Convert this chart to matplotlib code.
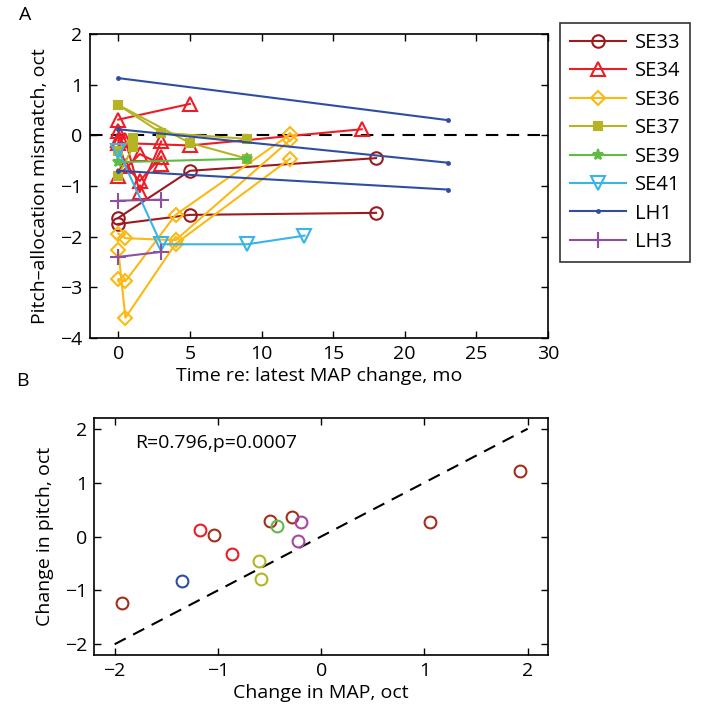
import matplotlib
matplotlib.use('Agg')
import matplotlib.pyplot as plt

plt.rcParams['font.family'] = ['Open Sans', 'DejaVu Sans']
plt.rcParams['font.size'] = 14

# ---------------- Panel A data ----------------
subjects = ['SE33', 'SE34', 'SE36', 'SE37', 'SE39', 'SE41', 'LH1', 'LH3']
colors = ['#9b1b1e', '#ee1c24', '#fdb913', '#b5b524', '#5dbb46', '#3ab4e6', '#2e4ea2', '#8d4fa0']

se33_t = [[0, 5, 18], [0, 5, 18]]
se33_y = [[-1.63, -0.70, -0.45], [-1.75, -1.57, -1.53]]

se34_t = [[0, 5], [0, 5, 17], [0, 0.5, 1.5, 3], [0, 0.5, 1.5, 3], [0, 1.5, 3]]
se34_y = [[0.31, 0.62], [-0.15, -0.20, 0.12], [0.08, -0.10, -1.12, -0.12],
          [-0.10, -0.60, -0.90, -0.42], [-0.80, -0.37, -0.57]]

se36_t = [[0, 0.5, 4, 12], [0, 0.5, 4, 12], [0, 0.5, 4, 12]]
se36_y = [[-1.94, -2.03, -2.07, -0.09], [-2.84, -2.88, -1.57, 0.02], [-2.27, -3.60, -2.14, -0.46]]

se37_t = [[0, 3, 9], [0, 5, 9], [0, 1], [0, 1]]
se37_y = [[0.60, 0.05, -0.07], [0.60, -0.15, -0.46], [-0.30, -0.05], [-0.80, -0.24]]

se39_t = [[0, 9]]
se39_y = [[-0.53, -0.46]]

se41_t = [[0, 3, 9, 13]]
se41_y = [[-0.30, -2.15, -2.15, -1.98]]

lh1_t = [[0, 23], [0, 23], [0, 23]]
lh1_y = [[1.13, 0.30], [0.12, -0.54], [-0.70, -1.07]]

lh3_t = [[0, 3], [0, 3]]
lh3_y = [[-1.29, -1.27], [-2.40, -2.30]]

# ---------------- Panel B data ----------------
map_change = [-1.93, -1.35, -1.17, -1.04, -0.865, -0.606, -0.584, -0.497, -0.43, -0.286, -0.196, -0.22, 1.05, 1.93]
pitch_change = [-1.23, -0.83, 0.12, 0.02, -0.33, -0.46, -0.79, 0.28, 0.20, 0.37, 0.265, -0.09, 0.26, 1.22]
point_subject = ['SE33', 'LH1', 'SE34', 'SE33', 'SE34', 'SE37', 'SE37', 'SE33', 'SE39', 'SE33', 'LH3', 'LH3', 'SE33', 'SE33']
stats_text = 'R=0.796,p=0.0007'

series_t = [se33_t, se34_t, se36_t, se37_t, se39_t, se41_t, lh1_t, lh3_t]
series_y = [se33_y, se34_y, se36_y, se37_y, se39_y, se41_y, lh1_y, lh3_y]
markers = ['o', '^', 'D', 's', '*', 'v', '.', '+']
msizes = [9, 10, 7, 5.5, 8, 10, 4, 11]
filled = [False, False, False, True, True, False, True, True]

fig = plt.figure(figsize=(7.04, 7.18), dpi=100)
W, H = 704, 718

def axrect(l, t, r, b):
    return [l / W, 1 - b / H, (r - l) / W, (b - t) / H]

ax = fig.add_axes(axrect(89.6, 34, 548, 338))
ax.plot([-2, 30], [0, 0], color='black', ls=(0, (6, 4)), lw=1.5, zorder=1)
handles = []
for name, c, ts, ys, m, ms, f in zip(subjects, colors, series_t, series_y, markers, msizes, filled):
    for i, (t, y) in enumerate(zip(ts, ys)):
        h, = ax.plot(t, y, color=c, marker=m, ms=ms, lw=1.5, mew=1.5,
                     mfc=(c if f else 'none'), mec=c, label=name if i == 0 else None, zorder=2)
        if i == 0:
            handles.append(h)
ax.set_xlim(-2, 30)
ax.set_ylim(-4, 2)
ax.set_xticks([0, 5, 10, 15, 20, 25, 30])
ax.set_yticks([-4, -3, -2, -1, 0, 1, 2])
ax.tick_params(direction='in', top=True, right=True, length=5, width=1, pad=5)
ax.set_xlabel('Time re: latest MAP change, mo', labelpad=3)
ax.set_ylabel('Pitch\u2013allocation mismatch, oct', labelpad=8)
for s in ax.spines.values():
    s.set_linewidth(1.2)

leg = fig.legend(handles=handles, loc='upper left',
                 bbox_to_anchor=(560 / W, 1 - 22.7 / H), borderaxespad=0, frameon=True, fancybox=False,
                 edgecolor='black', handlelength=2.8, handletextpad=0.4, borderpad=0.5,
                 labelspacing=0.42, fontsize=14.5)
leg.get_frame().set_linewidth(1.2)

fig.text(25 / W, 1 - 15 / H, 'A', fontsize=14, ha='center', va='center')
fig.text(22 / W, 1 - 381 / H, 'B', fontsize=14, ha='center', va='center')

# ---------------- Panel B ----------------
bx = fig.add_axes(axrect(94, 418, 548.3, 655))
bx.plot([-2, 2], [-2, 2], color='black', ls=(0, (6, 4)), lw=1.5, zorder=1)
cmap = dict(zip(subjects, colors))
cmap_b = dict(cmap)
cmap_b['SE33'] = '#a0301c'
cmap_b['LH3'] = '#a944a8'
for xv, yv, s in zip(map_change, pitch_change, point_subject):
    bx.plot(xv, yv, ls='none', marker='o', ms=8.5, mfc='none', mec=cmap_b[s], mew=1.5, zorder=2)
bx.set_xlim(-2.2, 2.2)
bx.set_ylim(-2.2, 2.2)
bx.set_xticks([-2, -1, 0, 1, 2])
bx.set_yticks([-2, -1, 0, 1, 2])
bx.tick_params(direction='in', top=True, right=True, length=5, width=1, pad=5)
bx.set_xlabel('Change in MAP, oct', labelpad=3)
bx.set_ylabel('Change in pitch, oct', labelpad=8)
bx.text(-1.8, 1.73, stats_text, fontsize=14, va='center', ha='left')
for s in bx.spines.values():
    s.set_linewidth(1.2)

fig.savefig('out.png', dpi=100)
